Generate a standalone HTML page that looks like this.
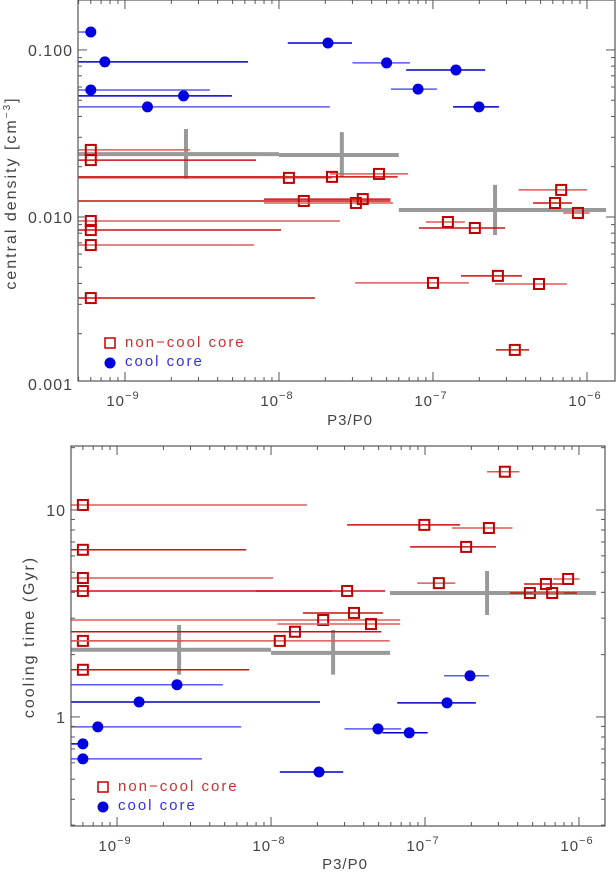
<!DOCTYPE html>
<html><head><meta charset="utf-8"><style>
body{margin:0;background:#fff;}
svg{display:block;font-family:"Liberation Sans",sans-serif;}
</style></head><body>
<svg id="c" width="616" height="873"></svg>
<script>
// ---- TOP PANEL DATA (central density vs P3/P0) ----
const topCoolX   = [6e-10, 7.4e-10, 6e-10, 2.4e-9, 1.4e-9, 2.08e-8, 5.0e-8, 1.41e-7, 8.0e-8, 1.99e-7];
const topCoolY   = [0.128, 0.0848, 0.0576, 0.0531, 0.0456, 0.110, 0.0836, 0.0759, 0.0583, 0.0456];
const topCoolLo  = [5e-10, 5e-10, 5e-10, 5e-10, 5e-10, 1.14e-8, 3.0e-8, 6.7e-8, 5.33e-8, 1.35e-7];
const topCoolHi  = [6e-10, 6.3e-9, 3.56e-9, 4.95e-9, 2.14e-8, 2.98e-8, 7.1e-8, 2.18e-7, 1.06e-7, 2.68e-7];
const topNccX  = [6e-10, 6e-10, 6e-10, 6e-10, 6e-10, 6e-10, 1.16e-8, 2.21e-8, 4.46e-8, 1.45e-8, 3.16e-8, 3.5e-8, 1.25e-7, 1.87e-7, 1.0e-7, 2.64e-7, 4.88e-7, 3.4e-7, 6.8e-7, 6.2e-7, 8.74e-7];
const topNccY  = [0.0252, 0.0219, 0.00946, 0.00835, 0.00679, 0.00327, 0.01714, 0.01738, 0.0181, 0.01247, 0.01213, 0.0128, 0.00933, 0.00859, 0.00403, 0.00444, 0.00397, 0.0016, 0.01452, 0.01213, 0.01057];
const topNccLo = [5e-10, 5e-10, 5e-10, 5e-10, 5e-10, 5e-10, 5e-10, 5e-10, 2.14e-8, 5e-10, 8.0e-9, 8.0e-9, 9.0e-8, 8.1e-8, 3.12e-8, 1.52e-7, 2.53e-7, 2.56e-7, 3.6e-7, 4.46e-7, 7.0e-7];
const topNccHi = [2.64e-9, 7.1e-9, 2.49e-8, 1.03e-8, 6.9e-9, 1.71e-8, 2.2e-8, 5.9e-8, 6.9e-8, 5.3e-8, 5.5e-8, 5.3e-8, 1.61e-7, 2.94e-7, 1.71e-7, 3.78e-7, 7.4e-7, 4.2e-7, 1.0e-6, 8.0e-7, 1.04e-6];
const topBinX   = [2.49e-9, 2.56e-8, 2.53e-7];
const topBinY   = [0.0238, 0.0235, 0.0110];
const topBinXlo = [5e-10, 1e-8, 6e-8];
const topBinXhi = [1e-8, 6e-8, 1.33e-6];
const topBinYlo = [0.0169, 0.0174, 0.0078];
const topBinYhi = [0.0336, 0.0322, 0.01556];
const topYTicks = [0.1, 0.01, 0.001];
const topYTickLabels = ["0.100", "0.010", "0.001"];
// ---- BOTTOM PANEL DATA (cooling time vs P3/P0) ----
const botCoolX  = [2.45e-9, 1.39e-9, 7.5e-10, 6e-10, 6e-10, 2.05e-8, 1.96e-7, 1.39e-7, 4.95e-8, 7.9e-8];
const botCoolY  = [1.43, 1.18, 0.895, 0.741, 0.627, 0.542, 1.58, 1.17, 0.875, 0.838];
const botCoolLo = [5e-10, 5e-10, 5e-10, 5e-10, 5e-10, 1.14e-8, 1.33e-7, 6.6e-8, 3.0e-8, 5.3e-8];
const botCoolHi = [4.87e-9, 2.08e-8, 6.4e-9, 6e-10, 3.56e-9, 2.94e-8, 2.6e-7, 2.14e-7, 7.0e-8, 1.04e-7];
const botNccX  = [6e-10, 6e-10, 6e-10, 6e-10, 6e-10, 6e-10, 1.14e-8, 1.43e-8, 2.18e-8, 3.46e-8, 4.46e-8, 3.12e-8, 3.3e-7, 9.9e-8, 2.6e-7, 1.85e-7, 1.23e-7, 6.1e-7, 8.5e-7, 4.8e-7, 6.7e-7];
const botNccY  = [10.57, 6.42, 4.69, 4.06, 2.33, 1.69, 2.33, 2.58, 2.94, 3.18, 2.81, 4.06, 15.3, 8.47, 8.18, 6.63, 4.43, 4.39, 4.64, 3.97, 3.97];
const botNccLo = [5e-10, 5e-10, 5e-10, 5e-10, 5e-10, 5e-10, 5e-10, 5e-10, 5e-10, 1.61e-8, 1.1e-8, 8.0e-9, 2.53e-7, 3.12e-8, 1.5e-7, 8.0e-8, 8.9e-8, 4.4e-7, 6.8e-7, 3.56e-7, 5.0e-7];
const botNccHi = [1.71e-8, 6.9e-9, 1.03e-8, 2.49e-8, 2.69e-9, 7.2e-9, 5.9e-8, 5.2e-8, 6.9e-8, 5.33e-8, 6.9e-8, 5.5e-8, 4.1e-7, 1.69e-7, 3.7e-7, 2.89e-7, 1.57e-7, 7.8e-7, 1.01e-6, 9.7e-7, 8.0e-7];
const botBinX   = [2.53e-9, 2.53e-8, 2.53e-7];
const botBinY   = [2.11, 2.04, 3.97];
const botBinXlo = [5e-10, 1e-8, 5.93e-8];
const botBinXhi = [1e-8, 5.93e-8, 1.29e-6];
const botBinYlo = [1.60, 1.60, 3.11];
const botBinYhi = [2.78, 2.63, 5.07];
const botYTicks = [10, 1];
const botYTickLabels = ["10", "1"];
const xTicks = [1e-9, 1e-8, 1e-7, 1e-6];
const xTickExp = ["-9", "-8", "-7", "-6"];

const NS = "http://www.w3.org/2000/svg";
const svg = document.getElementById('c');
function mk(tag, attrs, parent) {
  const e = document.createElementNS(NS, tag);
  for (const k in attrs) e.setAttribute(k, attrs[k]);
  (parent || svg).appendChild(e);
  return e;
}
function panel(cfg) {
  const g = mk('g', {});
  
  
  const L = cfg.L, R = cfg.R, T = cfg.T, B = cfg.B;
  const lx0 = Math.log10(cfg.xmin), lx1 = Math.log10(cfg.xmax);
  const ly0 = Math.log10(cfg.ymin), ly1 = Math.log10(cfg.ymax);
  const X = v => L + (Math.log10(v) - lx0) / (lx1 - lx0) * (R - L);
  const Y = v => B - (Math.log10(v) - ly0) / (ly1 - ly0) * (B - T);
  const cx = v => Math.max(L, Math.min(R, X(v)));
  for (let i = 0; i < cfg.binX.length; i++) {
    const h = mk('line', {x1: cx(cfg.binXlo[i]), x2: cx(cfg.binXhi[i]), y1: Y(cfg.binY[i]), y2: Y(cfg.binY[i]), stroke: '#999', 'stroke-width': 4}, g);
    
    
    const v = mk('line', {x1: X(cfg.binX[i]), x2: X(cfg.binX[i]), y1: Y(cfg.binYlo[i]), y2: Y(cfg.binYhi[i]), stroke: '#999', 'stroke-width': 4}, g);
    
    
  }
  for (let i = 0; i < cfg.nX.length; i++) {
    const y = Y(cfg.nY[i]);
    const e = mk('line', {x1: cx(cfg.nLo[i]), x2: cx(cfg.nHi[i]), y1: y, y2: y, stroke: i % 2 ? '#cc1010' : '#dd5a5a', 'stroke-width': 1.5}, g);
    
    
    const s = mk('rect', {x: X(cfg.nX[i]) - 5, y: y - 5, width: 10, height: 10, fill: 'none', stroke: '#c00000', 'stroke-width': 2}, g);
    
    
  }
  for (let i = 0; i < cfg.cX.length; i++) {
    const y = Y(cfg.cY[i]);
    const e = mk('line', {x1: cx(cfg.cLo[i]), x2: cx(cfg.cHi[i]), y1: y, y2: y, stroke: i % 2 ? '#0000c8' : '#5a5af0', 'stroke-width': 1.5}, g);
    
    
    const c = mk('circle', {cx: X(cfg.cX[i]), cy: y, r: 5.5, fill: '#0000e0'}, g);
    
    
  }
  const f = mk('rect', {x: L, y: T, width: R - L, height: B - T, fill: 'none', stroke: '#555', 'stroke-width': 1.2}, g);
  
  
  for (let d = Math.floor(lx0); d <= Math.ceil(lx1); d++) {
    for (let m = 1; m <= 9; m++) {
      const v = m * Math.pow(10, d);
      if (v < cfg.xmin || v > cfg.xmax) continue;
      const x = X(v), len = m === 1 ? 9 : 4;
      mk('line', {x1: x, x2: x, y1: B, y2: B - len, stroke: '#555', 'stroke-width': 1}, g);
      mk('line', {x1: x, x2: x, y1: T, y2: T + len, stroke: '#555', 'stroke-width': 1}, g);
    }
  }
  for (let i = 0; i < xTicks.length; i++) {
    const t = mk('text', {x: X(xTicks[i]) - 2, y: B + 25, 'text-anchor': 'middle', 'font-size': 15, fill: '#444', 'letter-spacing': 1}, g);
    
    
    t.textContent = '10';
    const s = mk('tspan', {dy: -7, 'font-size': 11}, t);
    s.textContent = '\u2212' + xTickExp[i].slice(1);
  }
  for (let d = Math.floor(ly0); d <= Math.ceil(ly1); d++) {
    for (let m = 1; m <= 9; m++) {
      const v = m * Math.pow(10, d);
      if (v < cfg.ymin || v > cfg.ymax) continue;
      const y = Y(v), len = m === 1 ? 9 : 4;
      mk('line', {x1: L, x2: L + len, y1: y, y2: y, stroke: '#555', 'stroke-width': 1}, g);
      mk('line', {x1: R, x2: R - len, y1: y, y2: y, stroke: '#555', 'stroke-width': 1}, g);
    }
  }
  for (let i = 0; i < cfg.yTicks.length; i++) {
    const t = mk('text', {x: L - 5, y: Y(cfg.yTicks[i]) + 6, 'text-anchor': 'end', 'font-size': 16, fill: '#444', 'letter-spacing': 1}, g);
    
    
    t.textContent = cfg.yTickLabels[i];
  }
  const xt = mk('text', {x: cfg.xTitleX, y: cfg.xTitleY, 'text-anchor': 'middle', 'font-size': 15, fill: '#444', 'letter-spacing': 1}, g);
  
  
  xt.textContent = 'P3/P0';
  const yt = mk('text', {x: 0, y: 0, 'text-anchor': 'middle', 'font-size': 16, fill: '#444', 'letter-spacing': 2, transform: `translate(${cfg.yTitleX},${cfg.yTitleY}) rotate(-90)`}, g);
  
  
  yt.innerHTML = cfg.yTitle;
  const lg = mk('g', {}, g);
  
  
  mk('rect', {x: cfg.legX - 5, y: cfg.legY - 5, width: 10, height: 10, fill: 'none', stroke: '#c00000', 'stroke-width': 1.5}, lg);
  const t1 = mk('text', {x: cfg.legX + 15, y: cfg.legY + 4, 'font-size': 15, fill: '#d03030', 'letter-spacing': 2}, lg);
  
  
  t1.textContent = 'non\u2212cool core';
  mk('circle', {cx: cfg.legX, cy: cfg.legY + 20, r: 5.5, fill: '#0000e0'}, lg);
  const t2 = mk('text', {x: cfg.legX + 15, y: cfg.legY + 23, 'font-size': 15, fill: '#3030e0', 'letter-spacing': 2}, lg);
  
  
  t2.textContent = 'cool core';
}
panel({name: 'density-panel', L: 78, R: 615, T: 0, B: 381,
  xmin: Math.pow(10, -9.305), xmax: Math.pow(10, -5.818), ymin: Math.pow(10, -2.982), ymax: Math.pow(10, -0.701),
  binX: topBinX, binY: topBinY, binXlo: topBinXlo, binXhi: topBinXhi, binYlo: topBinYlo, binYhi: topBinYhi,
  nX: topNccX, nY: topNccY, nLo: topNccLo, nHi: topNccHi,
  cX: topCoolX, cY: topCoolY, cLo: topCoolLo, cHi: topCoolHi,
  yTicks: topYTicks, yTickLabels: topYTickLabels,
  xTitleX: 350, xTitleY: 425, yTitleX: 16, yTitleY: 193,
  yTitle: 'central density [cm<tspan dy="-6" font-size="10">\u22123</tspan><tspan dy="6">]</tspan>',
  legX: 110, legY: 343});
panel({name: 'cooling-time-panel', L: 71, R: 605, T: 446, B: 826,
  xmin: Math.pow(10, -9.299), xmax: Math.pow(10, -5.831), ymin: Math.pow(10, -0.527), ymax: Math.pow(10, 1.309),
  binX: botBinX, binY: botBinY, binXlo: botBinXlo, binXhi: botBinXhi, binYlo: botBinYlo, binYhi: botBinYhi,
  nX: botNccX, nY: botNccY, nLo: botNccLo, nHi: botNccHi,
  cX: botCoolX, cY: botCoolY, cLo: botCoolLo, cHi: botCoolHi,
  yTicks: botYTicks, yTickLabels: botYTickLabels,
  xTitleX: 345, xTitleY: 869, yTitleX: 34, yTitleY: 637,
  yTitle: 'cooling time (Gyr)',
  legX: 103, legY: 787});
</script>
</body></html>
